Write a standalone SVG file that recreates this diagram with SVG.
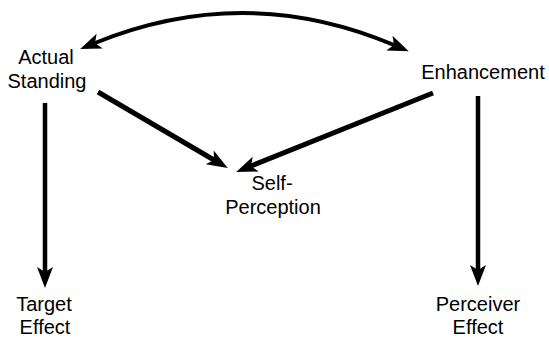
<svg xmlns="http://www.w3.org/2000/svg" width="549" height="341" viewBox="0 0 549 341">
<defs>
<style>
text{font-family:"Liberation Sans",Arial,sans-serif;font-size:20px;fill:#000;text-anchor:middle}
.c{fill:none;stroke:#000;stroke-linecap:butt}
</style>
<marker id="ah" markerUnits="userSpaceOnUse" viewBox="-2 -10 26 20" markerWidth="26" markerHeight="20" refX="5" refY="0" orient="auto-start-reverse">
<path d="M0,-8 L21,0 L0,8 L5,0 Z" fill="#000"/>
</marker>
</defs>
<rect width="549" height="341" fill="#fff"/>
<g id="connectors">
<path class="c" d="M95,43 Q245,-18 394,45" stroke-width="4" marker-start="url(#ah)" marker-end="url(#ah)"/>
<path class="c" d="M45,103 L45,272" stroke-width="4.5" marker-end="url(#ah)"/>
<path class="c" d="M478,96 L478,270" stroke-width="4.5" marker-end="url(#ah)"/>
<path class="c" d="M98,92 L214,160" stroke-width="5" marker-end="url(#ah)"/>
<path class="c" d="M433,93 L251,166" stroke-width="5" marker-end="url(#ah)"/>
</g>
<g id="actual-standing"><text x="46" y="64">Actual</text><text x="47" y="88">Standing</text></g>
<g id="enhancement"><text x="483" y="79">Enhancement</text></g>
<g id="self-perception"><text x="272" y="190">Self-</text><text x="273" y="214">Perception</text></g>
<g id="target-effect"><text x="44" y="311">Target</text><text x="45" y="334">Effect</text></g>
<g id="perceiver-effect"><text x="478" y="311">Perceiver</text><text x="478" y="334">Effect</text></g>
</svg>
